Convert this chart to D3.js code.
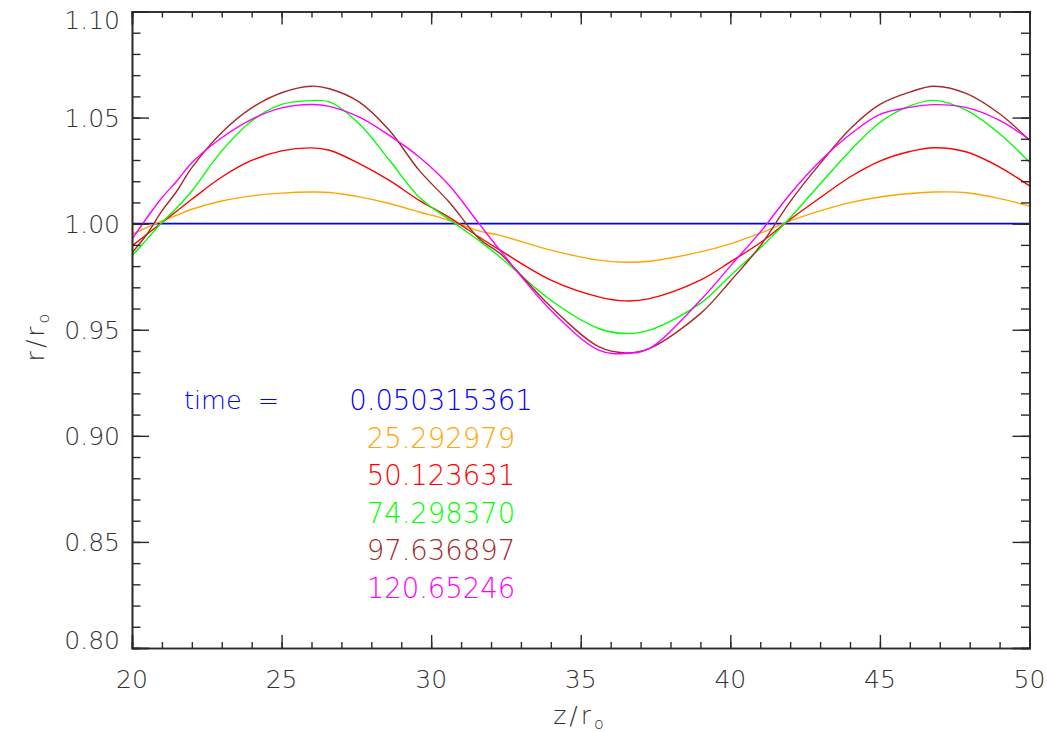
<!DOCTYPE html>
<html>
<head>
<meta charset="utf-8">
<script src="https://cdn.jsdelivr.net/npm/d3@7"></script>
<style>
  html, body { margin: 0; padding: 0; background: #fff; }
  svg { display: block; }
  text { font-family: "DejaVu Sans", sans-serif; font-weight: 200; }
</style>
</head>
<body>
<svg id="chart" width="1047" height="732"></svg>
<script>
// ---- data ----
const zValues = [20, 20.5, 21, 21.5, 22, 23, 24, 25, 26, 26.6, 27.6, 28.6, 29.6, 30.6, 31.6, 32.3,
  34, 35.6, 36.5, 37.3, 39, 40, 41, 42, 43, 44, 45, 46, 46.8, 47.9, 49, 50];

const timeLabels = ["0.050315361", "25.292979", "50.123631", "74.298370", "97.636897", "120.65246"];
const seriesColors = ["#0000ff", "#ffa500", "#ff0000", "#00ff00", "#a52a2a", "#ff00ff"];

const rBlue = [1.0000, 1.0000, 1.0000, 1.0000, 1.0000, 1.0000, 1.0000, 1.0000, 1.0000, 1.0000, 1.0000,
  1.0000, 1.0000, 1.0000, 1.0000, 1.0000, 1.0000, 1.0000, 1.0000, 1.0000, 1.0000, 1.0000, 1.0000,
  1.0000, 1.0000, 1.0000, 1.0000, 1.0000, 1.0000, 1.0000, 1.0000, 1.0000];
const rOrange = [0.9950, 0.9982, 1.0013, 1.0040, 1.0068, 1.0107, 1.0131, 1.0144, 1.0149, 1.0147, 1.0126,
  1.0095, 1.0055, 1.0016, 0.9966, 0.9945, 0.9875, 0.9828, 0.9818, 0.9823, 0.9867, 0.9905, 0.9955,
  1.0013, 1.0060, 1.0099, 1.0126, 1.0142, 1.0149, 1.0146, 1.0118, 1.0083];
const rRed = [0.9895, 0.9950, 1.0005, 1.0060, 1.0115, 1.0220, 1.0298, 1.0343, 1.0357, 1.0346, 1.0283,
  1.0204, 1.0110, 1.0030, 0.9937, 0.9875, 0.9734, 0.9655, 0.9636, 0.9647, 0.9734, 0.9820, 0.9910,
  1.0020, 1.0122, 1.0220, 1.0295, 1.0340, 1.0358, 1.0338, 1.0267, 1.0178];
const rGreen = [0.9848, 0.9927, 1.0005, 1.0075, 1.0154, 1.0343, 1.0484, 1.0562, 1.0580, 1.0574, 1.0470,
  1.0300, 1.0125, 1.0020, 0.9920, 0.9843, 0.9639, 0.9506, 0.9482, 0.9498, 0.9624, 0.9755, 0.9885,
  1.0028, 1.0187, 1.0343, 1.0477, 1.0555, 1.0581, 1.0534, 1.0424, 1.0290];
const rBrown = [0.9863, 0.9950, 1.0060, 1.0154, 1.0264, 1.0430, 1.0546, 1.0617, 1.0648, 1.0636, 1.0573,
  1.0440, 1.0251, 1.0102, 0.9930, 0.9859, 0.9608, 0.9420, 0.9391, 0.9412, 0.9576, 0.9729, 0.9895,
  1.0104, 1.0283, 1.0446, 1.0562, 1.0620, 1.0648, 1.0613, 1.0518, 1.0393];
const rMagenta = [0.9927, 1.0028, 1.0122, 1.0201, 1.0287, 1.0405, 1.0492, 1.0546, 1.0562, 1.0553, 1.0502,
  1.0416, 1.0314, 1.0181, 1.0000, 0.9875, 0.9592, 0.9404, 0.9388, 0.9412, 0.9639, 0.9800, 0.9960,
  1.0140, 1.0295, 1.0420, 1.0515, 1.0548, 1.0561, 1.0547, 1.0487, 1.0396];

const xTickValues = [20, 25, 30, 35, 40, 45, 50];
const yTickValues = [0.80, 0.85, 0.90, 0.95, 1.00, 1.05, 1.10];
const xTickLabels = ["20", "25", "30", "35", "40", "45", "50"];
const yTickLabels = ["0.80", "0.85", "0.90", "0.95", "1.00", "1.05", "1.10"];

const allSeries = [rBlue, rOrange, rRed, rGreen, rBrown, rMagenta];

// ---- layout ----
const plotLeft = 132, plotRight = 1029.5, plotTop = 11.5, plotBottom = 648;
const svg = d3.select("#chart");
const x = d3.scaleLinear().domain([20, 50]).range([plotLeft, plotRight]);
const y = d3.scaleLinear().domain([0.80, 1.10]).range([plotBottom, plotTop]);

const axisColor = "#2a2a2a";
const labelColor = "#333";

svg.append("defs").append("clipPath").attr("id", "clip")
  .append("rect").attr("x", plotLeft).attr("y", plotTop)
  .attr("width", plotRight - plotLeft).attr("height", plotBottom - plotTop);

// lines
const line = d3.line().x((d, i) => x(zValues[i])).y(d => y(d)).curve(d3.curveCatmullRom.alpha(0.5));
const lg = svg.append("g").attr("clip-path", "url(#clip)");
allSeries.forEach((s, k) => {
  lg.append("path").attr("d", line(s)).attr("fill", "none")
    .attr("stroke", seriesColors[k]).attr("stroke-width", k === 0 ? 1.8 : 1.4);
});

// axes with ticks
const xMinor = d3.range(20, 50.001, 1);
const yMinor = d3.range(0, 31).map(i => 0.80 + i * 0.01);
const xMajorLen = 13, xMinorLen = 6, yMajorLen = 17, yMinorLen = 8.5;

const bottomAxis = d3.axisBottom(x).tickValues(xTickValues).tickSize(-xMajorLen).tickFormat("");
const topAxis = d3.axisTop(x).tickValues(xTickValues).tickSize(-xMajorLen).tickFormat("");
const leftAxis = d3.axisLeft(y).tickValues(yTickValues).tickSize(-yMajorLen).tickFormat("");
const rightAxis = d3.axisRight(y).tickValues(yTickValues).tickSize(-yMajorLen).tickFormat("");
const bottomMinor = d3.axisBottom(x).tickValues(xMinor).tickSize(-xMinorLen).tickFormat("");
const topMinor = d3.axisTop(x).tickValues(xMinor).tickSize(-xMinorLen).tickFormat("");
const leftMinor = d3.axisLeft(y).tickValues(yMinor).tickSize(-yMinorLen).tickFormat("");
const rightMinor = d3.axisRight(y).tickValues(yMinor).tickSize(-yMinorLen).tickFormat("");

function place(axis, tx, ty) {
  const g = svg.append("g").attr("transform", `translate(${tx},${ty})`).call(axis);
  g.selectAll("path.domain").attr("stroke", axisColor).attr("stroke-width", 1.6);
  g.selectAll(".tick line").attr("stroke", axisColor).attr("stroke-width", 1.4);
  return g;
}
place(bottomMinor, 0, plotBottom); place(topMinor, 0, plotTop);
place(leftMinor, plotLeft, 0); place(rightMinor, plotRight, 0);
place(bottomAxis, 0, plotBottom); place(topAxis, 0, plotTop);
place(leftAxis, plotLeft, 0); place(rightAxis, plotRight, 0);

// tick labels
const fs = 25;
svg.append("g").selectAll("text").data(xTickValues).join("text")
  .attr("x", d => x(d)).attr("y", 688)
  .attr("text-anchor", "middle").attr("font-size", fs).attr("fill", labelColor)
  .text((d, i) => xTickLabels[i]);
svg.append("g").selectAll("text").data(yTickValues).join("text")
  .attr("x", 120)
  .attr("y", (d, i) => {
    const yy = y(d) + 9;
    if (i === yTickValues.length - 1) return yy + 8.5; // top label kept inside
    if (i === 0) return yy - 8; // bottom label raised
    return yy;
  })
  .attr("text-anchor", "end").attr("font-size", fs).attr("fill", labelColor)
  .text((d, i) => yTickLabels[i]);

// axis titles
const xt = svg.append("text").attr("x", 580).attr("y", 724).attr("text-anchor", "middle")
  .attr("font-size", fs).attr("fill", labelColor).attr("letter-spacing", 3);
xt.append("tspan").text("z/r");
xt.append("tspan").attr("font-size", 16).attr("dy", 5).text("o");

const yt = svg.append("text").attr("transform", "translate(44,336) rotate(-90)").attr("text-anchor", "middle")
  .attr("font-size", fs).attr("fill", labelColor).attr("letter-spacing", 3);
yt.append("tspan").text("r/r");
yt.append("tspan").attr("font-size", 16).attr("dy", 5).text("o");

// legend
svg.append("text").attr("x", 184).attr("y", 409).attr("font-size", 25.5).attr("fill", seriesColors[0])
  .attr("xml:space", "preserve").text("time  =");
svg.append("g").selectAll("text").data(timeLabels).join("text")
  .attr("x", 441).attr("y", (d, i) => 410 + i * 37.6)
  .attr("text-anchor", "middle").attr("font-size", 27.5)
  .attr("fill", (d, i) => seriesColors[i]).text(d => d);
</script>
</body>
</html>
